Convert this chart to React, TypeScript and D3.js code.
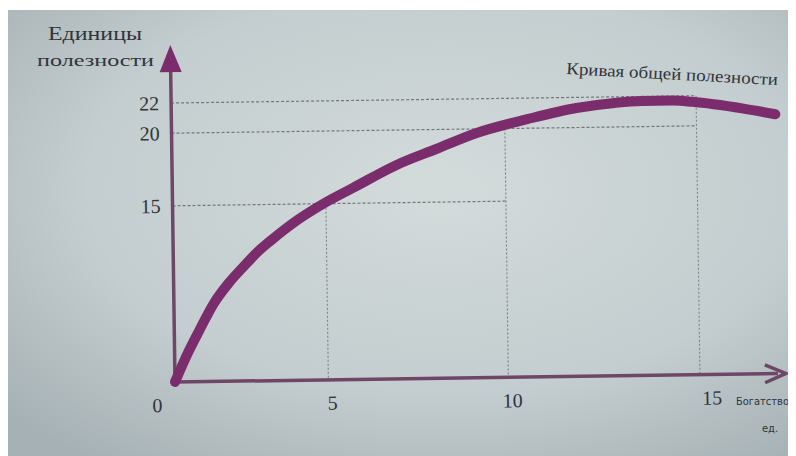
import { useEffect, useRef } from "react";
import * as d3 from "d3";

// Оси графика (деления и подписи)
const xTicks = [0, 5, 10, 15];
const yTicks = [15, 20, 22];

// Кривая общей полезности
const quantity = [0, 0.5, 1, 1.5, 2, 2.5, 2.95, 3.4, 4, 5, 5.8, 7, 8.15, 9.2, 10.6, 11.9, 12.9, 13.6, 14.4, 14.9, 16.2, 17];
const utility = [0, 3.0, 5.4, 7.6, 9.2, 10.5, 11.6, 12.5, 13.6, 15.1, 16.1, 17.6, 18.7, 19.7, 20.6, 21.3, 21.6, 21.7, 21.7, 21.6, 21.1, 20.7];

// Пунктирные линии-выноски
const guideLevels = [15, 20, 22];
const guideEnds = [10, 15, 15];
const dropX = [5, 10, 15];
const dropTops = [15, 20, 22];

const width = 788;
const height = 448;

// В учебнике шкалы нарисованы не в масштабе — степенные шкалы повторяют рисунок
const x = d3.scalePow().exponent(1.12).domain([0, 15]).range([167, 692]);
const y = d3.scalePow().exponent(1.2).domain([0, 22]).range([374, 95]);

const axisColor = "#6e4766";
const curveColor = "#7b2c6c";
const textColor = "#30353a";
const font = "'Liberation Serif', 'DejaVu Serif', serif";

const drawChart = (svgEl: SVGSVGElement) => {
    const svg = d3.select(svgEl);
    svg.selectAll("*").remove();

    // Фон — фотография страницы
    const defs = svg.append("defs");
    const grad = defs.append("radialGradient")
        .attr("id", "paper")
        .attr("cx", "55%").attr("cy", "40%").attr("r", "75%");
    grad.append("stop").attr("offset", "0%").attr("stop-color", "#d3dbdb");
    grad.append("stop").attr("offset", "60%").attr("stop-color", "#c4cdcf");
    grad.append("stop").attr("offset", "100%").attr("stop-color", "#a6b1b5");

    svg.append("rect")
        .attr("y", 2)
        .attr("width", width)
        .attr("height", height)
        .attr("fill", "url(#paper)");

    // Немного наклоняем, как на фото
    const g = svg.append("g")
        .attr("transform", `rotate(-0.8, ${x(0)}, ${y(0)})`);

    // Пунктир по горизонтали
    g.append("g")
        .selectAll("line")
        .data(guideLevels)
        .join("line")
        .attr("x1", x(0))
        .attr("x2", (d, i) => x(guideEnds[i]))
        .attr("y1", d => y(d))
        .attr("y2", d => y(d))
        .attr("stroke", "#6f777c")
        .attr("stroke-width", 1.2)
        .attr("stroke-dasharray", "3,2");

    // Пунктир по вертикали
    g.append("g")
        .selectAll("line")
        .data(dropX)
        .join("line")
        .attr("x1", d => x(d))
        .attr("x2", d => x(d))
        .attr("y1", (d, i) => y(dropTops[i]))
        .attr("y2", y(0))
        .attr("stroke", "#7b8388")
        .attr("stroke-width", 1.1)
        .attr("stroke-dasharray", "2,2");

    // Оси со стрелками
    g.append("line")
        .attr("x1", x(0)).attr("x2", x(0))
        .attr("y1", y(0)).attr("y2", 60)
        .attr("stroke", axisColor).attr("stroke-width", 3.5);
    g.append("path")
        .attr("d", `M${x(0)},37 L${x(0) - 11},64 L${x(0) + 11},64 Z`)
        .attr("fill", curveColor);

    g.append("line")
        .attr("x1", x(0)).attr("x2", 770)
        .attr("y1", y(0)).attr("y2", y(0))
        .attr("stroke", axisColor).attr("stroke-width", 3.5);
    g.append("path")
        .attr("d", `M757,${y(0) - 9} L778,${y(0)} L757,${y(0) + 9}`)
        .attr("fill", "none")
        .attr("stroke", axisColor)
        .attr("stroke-width", 3.5)
        .attr("stroke-linejoin", "miter");

    // Кривая
    const line = d3.line<number>()
        .x((d, i) => x(quantity[i]))
        .y(d => y(d))
        .curve(d3.curveMonotoneX);

    g.append("path")
        .attr("d", line(utility))
        .attr("fill", "none")
        .attr("stroke", curveColor)
        .attr("stroke-width", 10)
        .attr("stroke-linecap", "round");

    // Подписи делений
    g.append("g")
        .attr("font-family", font)
        .attr("font-size", 20)
        .attr("fill", textColor)
        .attr("text-anchor", "end")
        .selectAll("text")
        .data(yTicks)
        .join("text")
        .attr("x", x(0) - 12)
        .attr("y", d => y(d) + 7)
        .text(d => d);

    g.append("g")
        .attr("font-family", font)
        .attr("font-size", 20)
        .attr("fill", textColor)
        .attr("text-anchor", "middle")
        .selectAll("text")
        .data(xTicks)
        .join("text")
        .attr("x", d => (d === 0 ? x(d) - 18 : x(d) + (d === 15 ? 12 : 4)))
        .attr("y", y(0) + 30)
        .text(d => d);

    // Название оси Y
    const yTitle = svg.append("text")
        .attr("font-family", font)
        .attr("fill", textColor);
    yTitle.append("tspan")
        .attr("x", 40).attr("y", 32)
        .attr("font-size", 19)
        .attr("textLength", 94)
        .attr("lengthAdjust", "spacingAndGlyphs")
        .text("Единицы");
    yTitle.append("tspan")
        .attr("x", 29).attr("y", 58)
        .attr("font-size", 17)
        .attr("textLength", 117)
        .attr("lengthAdjust", "spacingAndGlyphs")
        .text("полезности");

    // Название оси X (у края фото)
    const xTitle = svg.append("text")
        .attr("font-family", "'DejaVu Sans Condensed', 'Liberation Sans', sans-serif")
        .attr("fill", textColor);
    xTitle.append("tspan")
        .attr("x", 728).attr("y", 397)
        .attr("font-size", 11)
        .text("Богатство");
    xTitle.append("tspan").attr("x", 754).attr("y", 424).attr("font-size", 11).text("ед.");

    // Подпись кривой
    svg.append("text")
        .attr("font-family", font)
        .attr("font-size", 17)
        .attr("fill", textColor)
        .attr("transform", "translate(558,66) rotate(3)")
        .attr("textLength", 212)
        .attr("lengthAdjust", "spacingAndGlyphs")
        .text("Кривая общей полезности");
};

export default function App() {
    const ref = useRef<SVGSVGElement>(null);

    useEffect(() => {
        if (ref.current) drawChart(ref.current);
    }, []);

    return (
        <svg ref={ref} width={width} height={height} style={{ display: "block" }} />
    );
}
